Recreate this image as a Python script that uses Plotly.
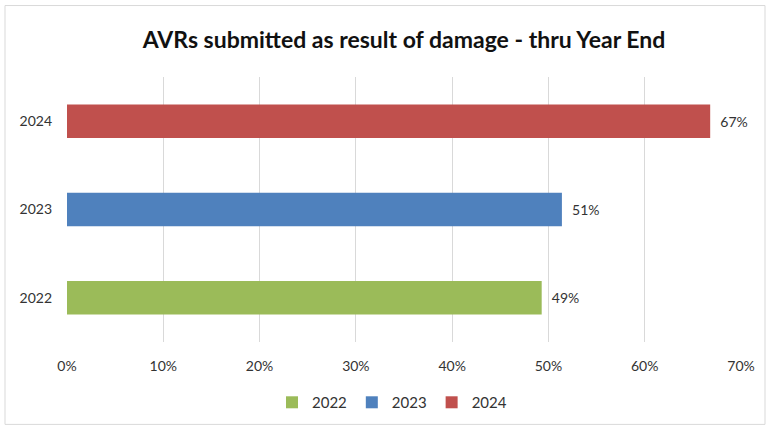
import plotly.graph_objects as go

years = ["2022", "2023", "2024"]
values = [0.493, 0.514, 0.668]
colors = ["#9BBB59", "#4F81BD", "#C0504D"]
x_ticks = [0, 0.1, 0.2, 0.3, 0.4, 0.5, 0.6, 0.7]
x_tick_labels = ["0%", "10%", "20%", "30%", "40%", "50%", "60%", "70%"]
title_text = "AVRs submitted as result of damage - thru Year End"

FONT = "Lato, Carlito, Calibri, sans-serif"

fig = go.Figure()
for yr, v, c in zip(years, values, colors):
    fig.add_trace(go.Bar(
        y=[yr], x=[v], name=yr, orientation="h",
        marker=dict(color=c, line=dict(width=0)),
        text=[v], texttemplate="  %{x:.0%}", textposition="outside",
        textfont=dict(family=FONT, size=14, color="#333333"),
        cliponaxis=False,
    ))

L, R, T, B = 67, 29, 77, 87
W, H = 770, 431
pw, ph = W - L - R, H - T - B

def px_x(p):
    return (p - L) / pw

def px_y(p):
    return (H - B - p) / ph

fig.update_layout(
    width=W, height=H,
    margin=dict(l=L, r=R, t=T, b=B),
    paper_bgcolor="white", plot_bgcolor="white",
    barmode="overlay", bargap=0.62,
    title=dict(text="<b>" + title_text + "</b>", xref="paper", x=0.5,
               xanchor="center", y=1 - 40 / H, yanchor="middle",
               font=dict(family=FONT, size=23, color="#111111")),
    font=dict(family=FONT, size=14, color="#333333"),
    xaxis=dict(range=[0, 0.7], tickvals=x_ticks, ticktext=x_tick_labels,
               showgrid=True, gridcolor="#D9D9D9", gridwidth=1,
               zeroline=False, showline=False, ticks="", ticklabelstandoff=14,
               tickfont=dict(family=FONT, size=14, color="#333333")),
    yaxis=dict(categoryorder="array", categoryarray=years, showgrid=False,
               zeroline=False, showline=False, ticks="", ticklabelstandoff=14,
               tickfont=dict(family=FONT, size=14, color="#333333")),
    legend=dict(orientation="h", x=px_x(392), xanchor="center",
                y=px_y(405), yanchor="middle",
                font=dict(family=FONT, size=15, color="#333333"),
                itemwidth=30, traceorder="normal"),
    shapes=[dict(type="rect", xref="paper", yref="paper",
                 x0=px_x(5), x1=px_x(765), y0=px_y(427), y1=px_y(5),
                 line=dict(color="#D9D9D9", width=1), layer="below")],
)

fig.write_html("out.html")
